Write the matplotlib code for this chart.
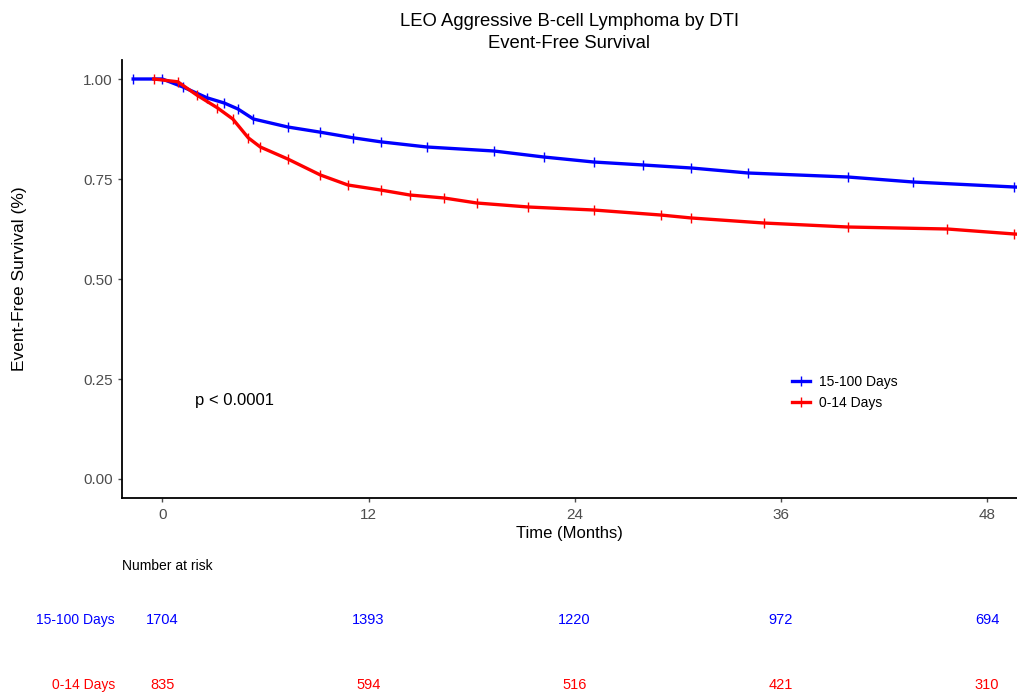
import numpy as np
import matplotlib.pyplot as plt
from matplotlib.transforms import blended_transform_factory

plt.rcParams['font.family'] = ['Liberation Sans', 'DejaVu Sans']

# curve values (months, event-free survival)
t_long = [-1.7, 0.0, 1.2, 2.6, 3.6, 4.4, 5.3, 7.3, 9.2, 11.1, 12.7, 15.4, 19.3,
          22.2, 25.1, 28.0, 30.8, 34.1, 39.9, 43.7, 49.6, 50.5]
s_long = [1.00, 1.00, 0.98, 0.953, 0.94, 0.925, 0.90, 0.88, 0.867, 0.853, 0.843,
          0.83, 0.82, 0.805, 0.7925, 0.785, 0.7775, 0.765, 0.755, 0.7425, 0.73,
          0.728]
t_short = [-0.5, 0.9, 2.0, 3.2, 4.1, 5.0, 5.7, 7.3, 9.2, 10.8, 12.7, 14.4, 16.4,
           18.3, 21.3, 25.1, 29.0, 30.8, 35.0, 39.9, 45.7, 49.6, 50.5]
s_short = [1.00, 0.993, 0.96, 0.928, 0.90, 0.853, 0.83, 0.80, 0.76, 0.735, 0.7225,
           0.71, 0.7025, 0.69, 0.68, 0.6725, 0.66, 0.6525, 0.64, 0.63, 0.625,
           0.6125, 0.61]

groups = ['15-100 Days', '0-14 Days']
colors = ['blue', 'red']
risk_times = [0, 12, 24, 36, 48]
risk_long = [1704, 1393, 1220, 972, 694]
risk_short = [835, 594, 516, 421, 310]

fig = plt.figure(figsize=(10.17, 6.96), dpi=100)
ax = fig.add_axes([122 / 1017, 1 - 498 / 696, 1 - 122 / 1017, (498 - 60) / 696])

for t, s, c, g in [(t_long, s_long, colors[0], groups[0]),
                   (t_short, s_short, colors[1], groups[1])]:
    ax.plot(t, s, color=c, lw=2.4, marker='|', ms=7, mew=1.0, label=g)

ax.set_xlim(-2.35, 49.75)
ax.set_ylim(-0.0475, 1.0475)
ax.set_xticks(risk_times)
ax.set_yticks([0, 0.25, 0.5, 0.75, 1.0])
ax.set_yticklabels(['0.00', '0.25', '0.50', '0.75', '1.00'])
ax.tick_params(colors='#4d4d4d', labelsize=11, length=3, width=1)
ax.tick_params(axis='x', pad=4)
for sp in ['top', 'right']:
    ax.spines[sp].set_visible(False)
for sp in ['left', 'bottom']:
    ax.spines[sp].set_linewidth(1.3)

ax.set_xlabel('Time (Months)', fontsize=12, labelpad=3)
ax.set_ylabel('Event-Free Survival (%)', fontsize=12.5)
ax.yaxis.set_label_coords(-0.106, 0.5)
ax.set_title('LEO Aggressive B-cell Lymphoma by DTI\nEvent-Free Survival',
             fontsize=13.3, pad=8.5, linespacing=1.4)

ax.text(1.9, 0.1975, 'p < 0.0001', fontsize=12, va='center')

leg = ax.legend(loc='upper left', bbox_to_anchor=(0.735, 0.31), frameon=False,
                fontsize=10, handlelength=1.3, handletextpad=0.6, labelspacing=0.5)
for h in leg.legend_handles:
    h.set_marker('|')

# number at risk table
tr = blended_transform_factory(ax.transData, fig.transFigure)
fig.text(122 / 1017, 1 - 566 / 696, 'Number at risk', fontsize=10, va='center')
for y, vals, c, g in [(1 - 620 / 696, risk_long, colors[0], groups[0]),
                      (1 - 685 / 696, risk_short, colors[1], groups[1])]:
    fig.text(115 / 1017, y, g, color=c, fontsize=10, ha='right', va='center')
    for t, v in zip(risk_times, vals):
        ax.text(t, y, str(v), color=c, fontsize=10.5, ha='center', va='center',
                transform=tr, clip_on=False)

fig.savefig('out.png', dpi=100)
